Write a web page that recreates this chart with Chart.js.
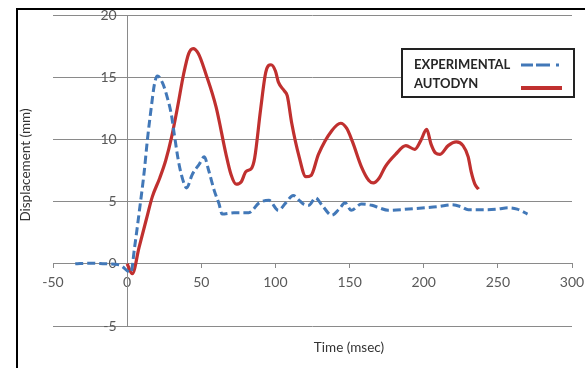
<!DOCTYPE html>
<html>
<head>
<meta charset="utf-8">
<script src="https://cdn.jsdelivr.net/npm/chart.js@4/dist/chart.umd.min.js"></script>
<style>
  body { margin: 0; background: #fff; font-family: Lato, sans-serif; }
  #wrap { position: relative; width: 585px; height: 368px; overflow: hidden; }
  #frame { position: absolute; left: 16px; top: 8px; width: 700px; height: 500px;
           border-left: 2px solid #000; border-top: 2px solid #000; }
  canvas { position: absolute; left: 0; top: 0; }
  .ytitle { position: absolute; left: 25px; top: 165px; transform: translate(-50%, -50%) rotate(-90deg);
            font-size: 13.5px; color: #333; white-space: nowrap; }
  .xtitle { position: absolute; left: 349px; top: 347px; transform: translate(-50%, -50%);
            font-size: 13.5px; color: #333; white-space: nowrap; }
  #legend { position: absolute; left: 401px; top: 48px; width: 170px; height: 46px;
            border: 2px solid #222; background: #fff; }
  .row { position: absolute; left: 11px; font-weight: bold; font-size: 13px; color: #262626; }
  .sample { position: absolute; left: 117px; }
</style>
</head>
<body>
<div id="wrap">
  <canvas id="grafico" width="585" height="368"></canvas>
  <div id="frame"></div>
  <div class="ytitle">Displacement (mm)</div>
  <div class="xtitle">Time (msec)</div>
  <div id="legend">
    <div class="row" style="top:6px">EXPERIMENTAL</div>
    <div class="row" style="top:25px">AUTODYN</div>
    <svg class="sample" style="top:12px" width="44" height="6">
      <line x1="1" y1="3" x2="42" y2="3" stroke="#4278B8" stroke-width="3" stroke-dasharray="12 3 14 6 3 20"/>
    </svg>
    <svg class="sample" style="top:35px" width="44" height="6">
      <line x1="1" y1="3" x2="42" y2="3" stroke="#C0302F" stroke-width="4"/>
    </svg>
  </div>
</div>
<script>
// dados
const expTempo = [-35, -25, -15, -5, 2.5, 5, 8.3, 11.6, 13.6, 16.3, 18.5, 20.4, 24, 27, 29.8, 31.8, 35, 38.5, 40, 44, 48.6, 52, 55, 58.7, 62, 64, 72, 82, 89, 95.6, 102, 107, 112, 116, 119, 122.6, 127, 131.5, 138, 143, 147, 151, 158, 165, 170, 176, 190, 201, 210, 219, 225, 230, 241.5, 250, 257, 263, 270];
const expDesloc = [0, 0.05, 0, -0.1, -0.7, 1.3, 4.3, 7.5, 9.9, 12.6, 14.5, 15.1, 14.5, 13.4, 12.0, 10.4, 8.0, 6.4, 6.1, 7.2, 8.0, 8.6, 7.5, 5.9, 4.8, 4.0, 4.1, 4.1, 4.9, 5.1, 4.3, 4.9, 5.5, 5.1, 4.8, 4.7, 5.3, 4.7, 3.9, 4.4, 4.9, 4.3, 4.8, 4.7, 4.5, 4.3, 4.4, 4.5, 4.6, 4.75, 4.6, 4.35, 4.35, 4.4, 4.5, 4.4, 4.0];

const autoTempo = [0, 3.5, 8, 13, 17, 22, 26, 30, 34, 38, 41.5, 44.5, 48, 53, 60, 66.5, 70, 73.5, 77, 80, 84, 86, 90, 93.5, 97, 100, 102, 106, 108, 111, 116, 120.5, 124, 129, 138, 144, 148, 152, 158, 163, 166, 170, 174, 181, 188, 194, 198, 202, 205, 208, 211, 216.5, 222, 226.5, 230, 232, 234.5, 237];
const autoDesloc = [0, -0.8, 1.3, 3.6, 5.4, 6.9, 8.3, 10.2, 12.6, 15.2, 16.9, 17.3, 16.9, 15.3, 12.6, 8.9, 7.2, 6.4, 6.6, 7.4, 7.7, 8.5, 12.4, 15.4, 16.0, 15.5, 14.6, 13.9, 13.5, 11.3, 8.6, 7.0, 7.1, 8.8, 10.7, 11.3, 10.9, 9.8, 7.8, 6.7, 6.5, 6.9, 7.8, 8.8, 9.5, 9.2, 9.9, 10.8, 9.6, 8.9, 8.8, 9.5, 9.8, 9.5, 8.6, 7.4, 6.4, 6.0];

const xTicks = [-50, 0, 50, 100, 150, 200, 250, 300];
const yTicks = [-5, 0, 5, 10, 15, 20];

function pares(xs, ys) {
  return xs.map((x, i) => ({ x: x, y: ys[i] }));
}

// tira o espaco extra que o chart.js reserva pros rotulos das pontas
function semSobra(eixo) {
  eixo.paddingLeft = 0;
  eixo.paddingRight = 0;
  eixo.paddingTop = 0;
  eixo.paddingBottom = 0;
}

const corEixo = '#8a8a8a';
const fonteTick = { family: 'Lato', size: 14 };

var ctx = document.getElementById('grafico').getContext('2d');
var grafico = new Chart(ctx, {
  type: 'scatter',
  data: {
    datasets: [{
      label: 'EXPERIMENTAL',
      data: pares(expTempo, expDesloc),
      showLine: true,
      borderColor: '#4278B8',
      borderWidth: 3,
      borderDash: [8, 4],
      pointRadius: 0,
      cubicInterpolationMode: 'monotone'
    }, {
      label: 'AUTODYN',
      data: pares(autoTempo, autoDesloc),
      showLine: true,
      borderColor: '#C0302F',
      borderWidth: 3.2,
      pointRadius: 0,
      cubicInterpolationMode: 'monotone'
    }]
  },
  options: {
    responsive: false,
    animation: false,
    devicePixelRatio: 1,
    layout: { padding: { left: 53, right: 13, top: 15, bottom: 42 } },
    plugins: { legend: { display: false }, tooltip: { enabled: false } },
    scales: {
      x: {
        type: 'linear',
        min: xTicks[0],
        max: xTicks[xTicks.length - 1],
        position: { y: 0 },
        afterBuildTicks: (eixo) => { eixo.ticks = xTicks.map(v => ({ value: v })); },
        afterFit: semSobra,
        ticks: { color: '#595959', font: fonteTick, padding: 6, maxRotation: 0 },
        grid: { drawOnChartArea: false, drawTicks: true, tickLength: 4, color: corEixo },
        border: { color: corEixo, width: 1 }
      },
      y: {
        type: 'linear',
        min: yTicks[0],
        max: yTicks[yTicks.length - 1],
        position: { x: 0 },
        afterBuildTicks: (eixo) => { eixo.ticks = yTicks.map(v => ({ value: v })); },
        afterFit: semSobra,
        ticks: {
          color: '#595959',
          font: fonteTick,
          // eixo centrado ignora o padding, entao empurra o rotulo com um espaco
          callback: (v) => v + '\u2003'
        },
        grid: { color: corEixo, drawTicks: false },
        border: { color: corEixo, width: 1 }
      }
    }
  }
});
</script>
</body>
</html>
